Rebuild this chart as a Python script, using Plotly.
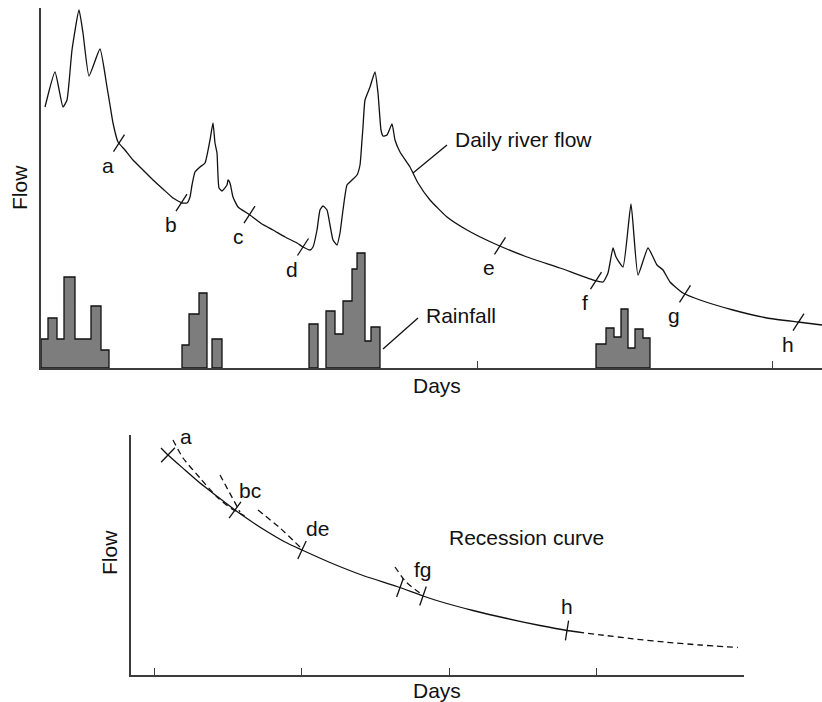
import numpy as np
import plotly.graph_objects as go

# ---------------- Upper panel: daily river flow and rainfall ----------------
flow_days = [0.4, 1.4, 2.2, 2.6, 3.1, 3.8, 4.2, 4.8, 5.9, 6.6, 6.9, 7.2, 7.7, 8.4, 9.2,
             10.2, 11.2, 12.2, 13.2, 14.1, 14.6, 14.9, 15.1, 15.4, 15.9, 16.4, 16.9, 17.2,
             17.4, 17.6, 17.8, 18.1, 18.6, 18.7, 18.9, 19.2, 19.7, 20.9, 22.1, 23.2, 24.4,
             25.6, 26.2, 26.9, 27.2, 27.6, 27.9, 28.2, 28.6, 28.9, 29.2, 29.6, 29.9, 30.2,
             30.6, 31.1, 31.6, 31.9, 32.1, 32.2, 32.4, 32.9, 33.4, 33.7, 34.0, 34.2, 34.6,
             35.1, 35.4, 35.9, 36.9, 37.7, 38.9, 40.6, 42.6, 45.2, 48.6, 51.9, 55.2, 56.2,
             56.7, 57.2, 57.5, 58.2, 59.0, 59.7, 60.7, 61.6, 62.2, 62.9, 64.2, 65.9, 69.2,
             72.6, 75.7, 78.1]
flow_vals = [26.1, 29.6, 26.1, 26.8, 31.8, 35.8, 33.5, 29.2, 31.9, 28.1, 26.3, 24.5, 22.6,
             21.8, 20.8, 19.8, 18.8, 17.9, 17.0, 16.5, 16.5, 17.1, 18.3, 19.6, 20.1, 20.5,
             22.8, 24.5, 22.5, 21.5, 18.0, 17.7, 18.3, 18.8, 18.5, 17.1, 16.1, 15.3, 14.4,
             13.8, 13.1, 12.5, 12.1, 11.8, 12.1, 13.8, 15.8, 16.2, 15.8, 14.3, 12.8, 12.3,
             13.5, 15.8, 18.3, 18.8, 19.3, 20.3, 22.8, 24.1, 26.8, 28.1, 29.6, 27.5, 23.8,
             23.2, 23.3, 24.4, 22.8, 21.6, 20.1, 18.5, 16.8, 15.1, 13.8, 12.5, 11.1, 10.0,
             8.8, 8.6, 9.5, 12.0, 11.1, 10.1, 16.4, 9.3, 12.0, 10.3, 9.8, 8.6, 7.5, 6.8,
             5.8, 5.0, 4.6, 4.3]

# rainfall blocks: bar edges (days) and the depth of each bar
rain1_edges = [0.0, 0.7, 1.6, 2.3, 3.4, 5.0, 6.0, 6.8]
rain1_depth = [2.9, 5.0, 2.9, 9.1, 2.9, 6.2, 1.8]
rain2_edges = [14.1, 14.8, 15.8, 16.6]
rain2_depth = [2.3, 5.4, 7.5]
rain3_edges = [17.1, 18.1]
rain3_depth = [2.9]
rain4_edges = [26.8, 27.7]
rain4_depth = [4.4]
rain5_edges = [28.5, 29.4, 30.2, 31.1, 31.6, 32.4, 33.0, 33.9]
rain5_depth = [5.7, 3.4, 6.7, 9.9, 11.5, 2.7, 4.1]
rain6_edges = [55.5, 56.5, 57.3, 58.0, 58.7, 59.4, 60.2, 60.9]
rain6_depth = [2.4, 4.0, 3.1, 5.9, 2.0, 3.9, 3.0]

# recession segments marked on the hydrograph
seg_labels = ["a", "b", "c", "d", "e", "f", "g", "h"]
seg_days = [7.8, 14.05, 20.85, 26.2, 45.9, 55.5, 64.4, 75.75]
top_ticks = [43.6, 73.1]

# ---------------- Lower panel: master recession curve ----------------
rec_days = [3.0, 3.7, 5.4, 6.9, 8.7, 10.4, 11.9, 13.6, 15.4, 17.1, 19.9, 23.2, 26.6, 29.2,
            30.9, 34.2, 37.6, 40.9, 43.6, 44.7]
rec_vals = [22.7, 22.0, 20.5, 19.2, 17.8, 16.5, 15.45, 14.35, 13.3, 12.5, 11.25, 9.95,
            8.85, 7.9, 7.35, 6.45, 5.65, 4.95, 4.45, 4.3]
ext_days = [44.7, 46.9, 50.2, 53.6, 56.9, 60.7]
ext_vals = [4.3, 4.02, 3.62, 3.27, 3.0, 2.75]

piece_a_days = [4.2, 5.2, 6.9, 8.6, 10.1, 11.6]
piece_a_vals = [23.5, 21.7, 19.7, 17.8, 16.6, 15.8]
piece_b_days = [8.9, 10.9]
piece_b_vals = [20.0, 16.3]
piece_c_days = [12.7, 14.9, 16.9]
piece_c_vals = [16.5, 14.7, 12.8]
piece_f_days = [26.4, 27.5, 28.9]
piece_f_vals = [10.8, 9.3, 8.2]

rec_labels = ["a", "bc", "de", "", "fg", "h"]
rec_mark_days = [3.7, 10.4, 17.1, 26.9, 29.2, 43.6]
bottom_ticks = [2.3, 17.0, 31.8, 46.5, 61.2]

FONT = "Liberation Sans, Arial, Helvetica, sans-serif"
INK = "#111111"
AXIS = "#3c3c3c"
FILL = "#7d7d7d"


def step_outline(edges, depth):
    xs, ys = [edges[0]], [0.0]
    for i, d in enumerate(depth):
        xs += [edges[i], edges[i + 1]]
        ys += [d, d]
    xs.append(edges[-1])
    ys.append(0.0)
    xs.append(edges[0])
    ys.append(0.0)
    return xs, ys


def line(fig, xs, ys, xa, ya, dash=None, width=1.3, smooth=0.0):
    spec = dict(color=INK, width=width, dash=dash)
    if smooth:
        spec.update(shape="spline", smoothing=smooth)
    fig.add_trace(go.Scatter(x=xs, y=ys, mode="lines", xaxis=xa, yaxis=ya, line=spec,
                             hoverinfo="skip", showlegend=False))


fig = go.Figure()

# rainfall histogram blocks
for edges, depth in [(rain1_edges, rain1_depth), (rain2_edges, rain2_depth),
                     (rain3_edges, rain3_depth), (rain4_edges, rain4_depth),
                     (rain5_edges, rain5_depth), (rain6_edges, rain6_depth)]:
    xs, ys = step_outline(edges, depth)
    fig.add_trace(go.Scatter(x=xs, y=ys, mode="lines", fill="toself", fillcolor=FILL,
                             line=dict(color=INK, width=1.3), xaxis="x", yaxis="y",
                             hoverinfo="skip", showlegend=False))

# hydrograph
line(fig, flow_days, flow_vals, "x", "y", smooth=0.45)

annotations = []
lbl_font = dict(family=FONT, size=21, color=INK)

# short slanted bars marking each recession segment
for lab, d in zip(seg_labels, seg_days):
    f = float(np.interp(d, flow_days, flow_vals))
    line(fig, [d - 0.55, d + 0.55], [f - 0.85, f + 0.85], "x", "y")
    annotations.append(dict(x=d, y=f, xref="x", yref="y", text=lab, showarrow=False,
                            xshift=-11, yshift=-22, font=lbl_font))

# leader lines for the two captions
d0 = 37.2
f0 = float(np.interp(d0, flow_days, flow_vals))
line(fig, [d0, d0 + 3.4], [f0, f0 + 2.8], "x", "y")
annotations.append(dict(x=d0 + 4.0, y=f0 + 3.4, xref="x", yref="y", text="Daily river flow",
                        showarrow=False, xanchor="left", yanchor="middle", font=lbl_font))
r0 = rain5_edges[-1]
line(fig, [r0 + 0.3, r0 + 3.8], [1.9, 5.0], "x", "y")
annotations.append(dict(x=r0 + 4.4, y=5.3, xref="x", yref="y", text="Rainfall",
                        showarrow=False, xanchor="left", yanchor="middle", font=lbl_font))

# master recession curve and its dashed extension
line(fig, rec_days, rec_vals, "x2", "y2", smooth=0.6)
line(fig, ext_days, ext_vals, "x2", "y2", dash="6px,4px", smooth=0.6)
for xs, ys in [(piece_a_days, piece_a_vals), (piece_b_days, piece_b_vals),
               (piece_c_days, piece_c_vals), (piece_f_days, piece_f_vals)]:
    line(fig, xs, ys, "x2", "y2", dash="6px,4px", smooth=0.6)

# perpendicular bars where the segments join the master curve
rec_label_shift = [(18, 19), (15, 20), (15, 22), (0, 0), (0, 27), (0, 24)]
for lab, d, (sx, sy) in zip(rec_labels, rec_mark_days, rec_label_shift):
    f = float(np.interp(d, rec_days, rec_vals))
    slope = (float(np.interp(d + 0.5, rec_days, rec_vals)) -
             float(np.interp(d - 0.5, rec_days, rec_vals)))
    nx, ny = -slope, 1.0
    n = np.hypot(nx, ny)
    nx, ny = nx / n, ny / n
    line(fig, [d - nx, d + nx], [f - ny, f + ny], "x2", "y2")
    if lab:
        annotations.append(dict(x=d, y=f, xref="x2", yref="y2", text=lab, showarrow=False,
                                xshift=sx, yshift=sy, font=lbl_font))

annotations.append(dict(x=31.6, y=13.8, xref="x2", yref="y2", text="Recession curve",
                        showarrow=False, xanchor="left", yanchor="middle", font=lbl_font))

# axis captions
cap = dict(xref="paper", yref="paper", showarrow=False, xanchor="center",
           yanchor="middle", font=lbl_font)
annotations += [
    dict(x=19 / 822, y=1 - 188 / 702, text="Flow", textangle=-90, **cap),
    dict(x=437 / 822, y=1 - 385 / 702, text="Days", **cap),
    dict(x=109 / 822, y=1 - 553 / 702, text="Flow", textangle=-90, **cap),
    dict(x=437 / 822, y=1 - 690 / 702, text="Days", **cap),
]

axis_common = dict(showline=True, linecolor=AXIS, linewidth=1.6, showgrid=False,
                   zeroline=False, showticklabels=False, fixedrange=True)

fig.update_layout(
    width=822, height=702,
    margin=dict(l=0, r=0, t=0, b=0),
    paper_bgcolor="white", plot_bgcolor="white",
    showlegend=False, hovermode=False,
    xaxis=dict(domain=[41 / 822, 1.0], range=[0, 78.1], anchor="y",
               ticks="inside", ticklen=7, tickwidth=1.3, tickcolor=AXIS,
               tickvals=top_ticks, **axis_common),
    yaxis=dict(domain=[1 - 368 / 702, 1 - 8 / 702], range=[0, 36], anchor="x",
               ticks="", **axis_common),
    xaxis2=dict(domain=[131 / 822, 743.5 / 822], range=[0, 61.25], anchor="y2",
                ticks="inside", ticklen=7, tickwidth=1.3, tickcolor=AXIS,
                tickvals=bottom_ticks, **axis_common),
    yaxis2=dict(domain=[1 - 675 / 702, 1 - 435 / 702], range=[0, 24], anchor="x2",
                ticks="", **axis_common),
    annotations=annotations,
)

fig.write_html("out.html")
